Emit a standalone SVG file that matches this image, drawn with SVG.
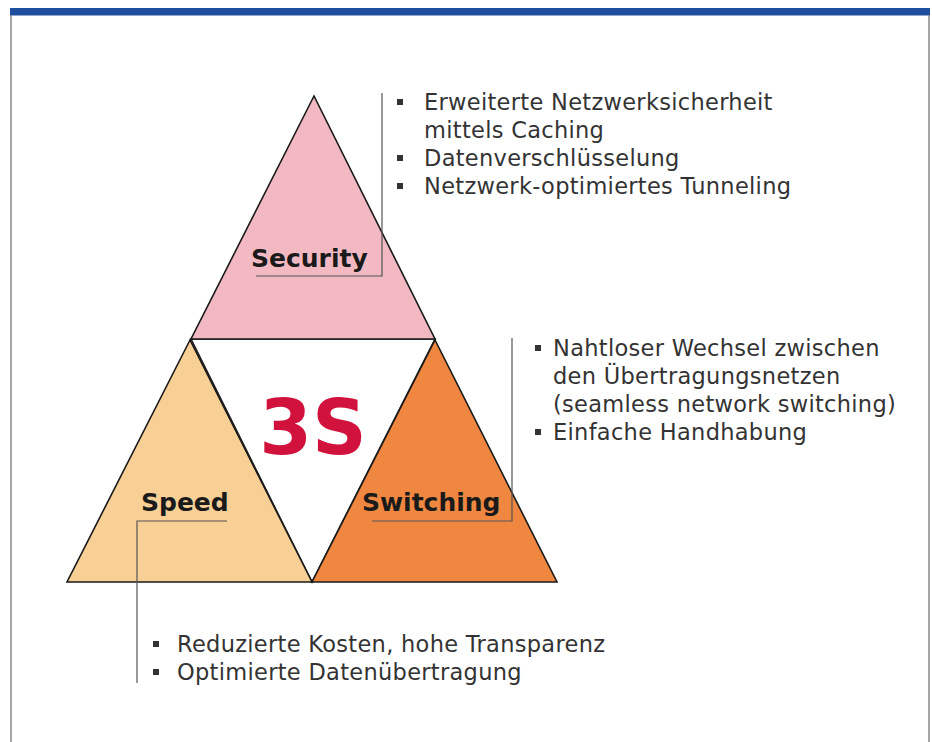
<svg xmlns="http://www.w3.org/2000/svg" width="932" height="742" viewBox="0 0 932 742">
<style>
.tri{stroke:#1a1a1a;stroke-width:1.6;stroke-linejoin:miter}
.lbl{font-family:"DejaVu Sans",Verdana,sans-serif;font-weight:bold;font-size:25px;fill:#1a1a1a}
.txt{font-family:"DejaVu Sans",Verdana,sans-serif;font-size:22.5px;letter-spacing:0.3px;fill:#333}
.lead{stroke:#555;stroke-width:1.2;fill:none}
.bul{fill:#333}
</style>
<rect x="0" y="0" width="932" height="742" fill="#fff"/>
<rect x="10" y="8" width="920" height="7.5" fill="#1f4e9e"/>
<line x1="11" y1="15" x2="11" y2="742" stroke="#888" stroke-width="1.5"/>
<line x1="929" y1="15" x2="929" y2="742" stroke="#888" stroke-width="1.5"/>

<g id="center">
<polygon class="tri" points="191,339 435,339 312,582" fill="#fff"/>
<text x="313" y="454" text-anchor="middle" font-family="DejaVu Sans,Verdana,sans-serif" font-weight="bold" font-size="76" fill="#d0123c">3S</text>
</g>
<g id="security">
<polygon class="tri" points="314,96 191,339 435,339" fill="#f3b9c3"/>
<text class="lbl" x="251" y="267">Security</text>
</g>
<g id="speed">
<polygon class="tri" points="190,340 67,582 312,582" fill="#f8cf95"/>
<text class="lbl" x="141" y="511">Speed</text>
</g>
<g id="switching">
<polygon class="tri" points="435,340 312,582 557,582" fill="#f08740"/>
<text class="lbl" x="362" y="511">Switching</text>
</g>

<g id="connectors">
<polyline class="lead" points="256,276 382,276 382,93"/>
<polyline class="lead" points="372,521 512,521 512,338"/>
<polyline class="lead" points="227,521 137,521 137,683"/>
</g>

<g id="security-notes">
<rect class="bul" x="397" y="99" width="6" height="6"/>
<rect class="bul" x="397" y="155" width="6" height="6"/>
<rect class="bul" x="397" y="183" width="6" height="6"/>
<text class="txt" x="424" y="110">Erweiterte Netzwerksicherheit</text>
<text class="txt" x="424" y="138">mittels Caching</text>
<text class="txt" x="424" y="166">Datenverschlüsselung</text>
<text class="txt" x="424" y="194">Netzwerk-optimiertes Tunneling</text>
</g>
<g id="switching-notes">
<rect class="bul" x="535" y="345" width="6" height="6"/>
<rect class="bul" x="535" y="429" width="6" height="6"/>
<text class="txt" x="553" y="356">Nahtloser Wechsel zwischen</text>
<text class="txt" x="553" y="384">den Übertragungsnetzen</text>
<text class="txt" x="553" y="412">(seamless network switching)</text>
<text class="txt" x="553" y="440">Einfache Handhabung</text>
</g>
<g id="speed-notes">
<rect class="bul" x="153" y="641" width="6" height="6"/>
<rect class="bul" x="153" y="669" width="6" height="6"/>
<text class="txt" x="177" y="652">Reduzierte Kosten, hohe Transparenz</text>
<text class="txt" x="177" y="680">Optimierte Datenübertragung</text>
</g>
</svg>
